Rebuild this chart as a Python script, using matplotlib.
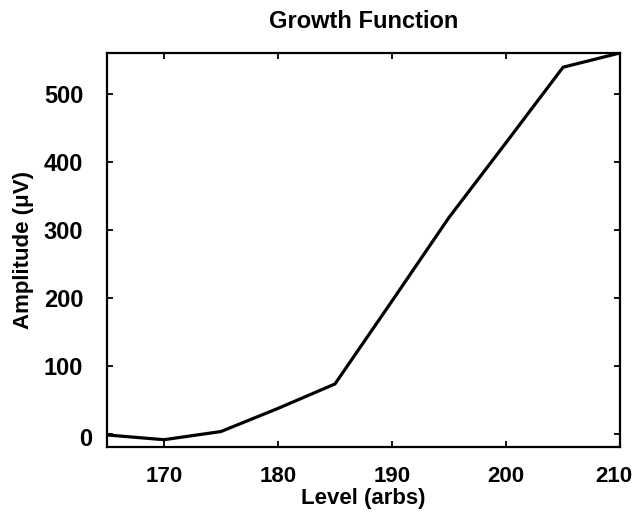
import matplotlib
matplotlib.use("Agg")
import matplotlib.pyplot as plt
from matplotlib.transforms import ScaledTranslation

# level steps and measured amplitude
level = [165, 170, 175, 180, 185, 190, 195, 200, 205, 210]
amplitude = [-2, -9, 3, 37, 73, 195, 318, 428, 539, 560]

plt.rcParams['font.family'] = ['Liberation Sans', 'DejaVu Sans']
plt.rcParams['font.weight'] = 'bold'

fig = plt.figure(figsize=(6.36, 5.14), dpi=100)
ax = fig.add_axes([0.168, 0.130, 0.807, 0.767])

ax.plot(level, amplitude, color="black", linewidth=2.3)

ax.set_xlim(165, 210)
ax.set_ylim(-20, 560)
ax.set_xticks([170, 180, 190, 200, 210])
ax.set_yticks([0, 100, 200, 300, 400, 500])

ax.tick_params(direction="in", length=4, width=1.3, top=True, right=True)
ax.tick_params(axis="x", pad=13.5, labelsize=16)
ax.tick_params(axis="y", pad=17, labelsize=17)
for s in ax.spines.values():
    s.set_linewidth(1.6)


def nudge(label, dx, dy):
    # shift a tick label by a few pixels
    label.set_transform(label.get_transform() + ScaledTranslation(dx / 100, dy / 100, fig.dpi_scale_trans))


nudge(ax.yaxis.get_major_ticks()[0].label1, 9, -3)
nudge(ax.xaxis.get_major_ticks()[-1].label1, -6, 0)

ax.set_title("Growth Function", fontsize=17, fontweight="bold", pad=18)
ax.set_xlabel("Level (arbs)", fontsize=16, fontweight="bold", labelpad=1)
ax.set_ylabel("Amplitude (\u03bcV)", fontsize=16, fontweight="bold", labelpad=7)

fig.savefig("out.png", dpi=100)
